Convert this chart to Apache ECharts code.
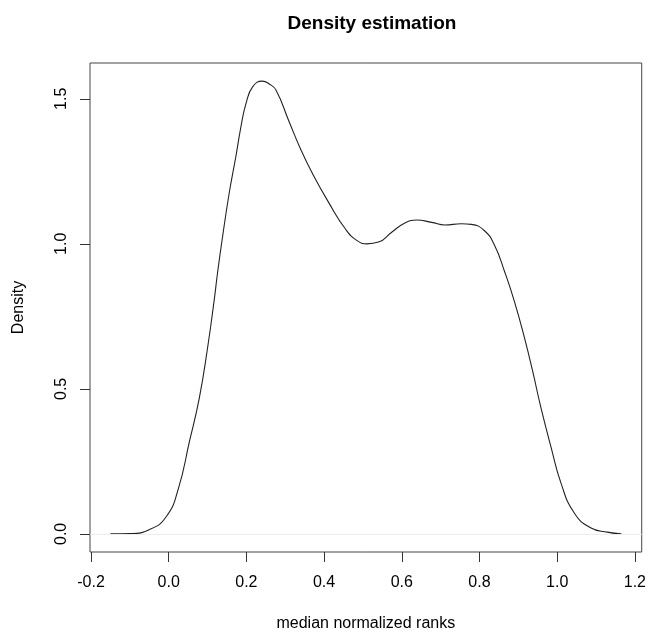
<!DOCTYPE html>
<html>
<head>
<meta charset="utf-8">
<script src="https://cdn.jsdelivr.net/npm/echarts@6/dist/echarts.min.js"></script>
<style>
html,body{margin:0;padding:0;background:#fff;}
#chart{width:649px;height:637px;}
</style>
</head>
<body>
<div id="chart"></div>
<script>
// Density curve
const xValues = [-0.150, -0.100, -0.049, -0.006, 0.024, 0.054, 0.079, 0.100, 0.117, 0.126, 0.139, 0.156, 0.173, 0.186, 0.199, 0.216, 0.241, 0.258, 0.276, 0.310, 0.340, 0.369, 0.412, 0.455, 0.485, 0.510, 0.540, 0.574, 0.608, 0.638, 0.677, 0.711, 0.753, 0.779, 0.813, 0.839, 0.865, 0.890, 0.916, 0.937, 0.958, 0.984, 1.010, 1.044, 1.086, 1.129, 1.165];
const densityValues = [0.000, 0.001, 0.015, 0.060, 0.152, 0.322, 0.470, 0.641, 0.805, 0.903, 1.028, 1.177, 1.302, 1.404, 1.484, 1.541, 1.561, 1.552, 1.530, 1.421, 1.325, 1.245, 1.142, 1.051, 1.011, 1.000, 1.006, 1.040, 1.072, 1.082, 1.074, 1.065, 1.069, 1.067, 1.045, 0.994, 0.903, 0.801, 0.675, 0.560, 0.436, 0.300, 0.174, 0.072, 0.021, 0.006, 0.000];
const xTicks = [-0.2, 0.0, 0.2, 0.4, 0.6, 0.8, 1.0, 1.2];
const yTicks = [0.0, 0.5, 1.0, 1.5];
const titleText = 'Density estimation';
const xLabel = 'median normalized ranks';
const yLabel = 'Density';

// R-style 4% axis padding around the data range
const xMin = Math.min(...xValues), xMax = Math.max(...xValues);
const yMin = 0, yMax = Math.max(...densityValues);
const xPad = (xMax - xMin) * 0.04, yPad = (yMax - yMin) * 0.04;

const font = '"Liberation Sans", Arial, Helvetica, sans-serif';
const chart = echarts.init(document.getElementById('chart'), null, {renderer: 'canvas'});
chart.setOption({
  animation: false,
  backgroundColor: '#ffffff',
  title: {
    text: titleText,
    left: 367,
    textAlign: 'center',
    top: 9,
    textStyle: {fontFamily: font, fontSize: 19, fontWeight: 'bold', color: '#000'}
  },
  grid: {
    left: 90, right: 5, top: 63, bottom: 80,
    show: true, borderColor: '#444', borderWidth: 1, backgroundColor: 'transparent'
  },
  xAxis: {
    type: 'value',
    min: xMin - xPad, max: xMax + xPad,
    name: xLabel, nameLocation: 'middle', nameGap: 64,
    nameTextStyle: {fontFamily: font, fontSize: 16, color: '#000'},
    axisLine: {show: false, onZero: false},
    splitLine: {show: false},
    axisTick: {show: true, inside: false, length: 10, customValues: xTicks, lineStyle: {color: '#333'}},
    axisLabel: {show: true, margin: 23, customValues: xTicks, fontFamily: font, fontSize: 16, color: '#000',
      formatter: v => v.toFixed(1)}
  },
  yAxis: {
    type: 'value',
    min: yMin - yPad, max: yMax + yPad,
    name: yLabel, nameLocation: 'middle', nameGap: 63, nameRotate: 90,
    nameTextStyle: {fontFamily: font, fontSize: 16, color: '#000'},
    axisLine: {show: false, onZero: false},
    splitLine: {show: false},
    axisTick: {show: true, inside: false, length: 10, customValues: yTicks, lineStyle: {color: '#333'}},
    axisLabel: {show: true, margin: 20, rotate: 90, customValues: yTicks, fontFamily: font, fontSize: 16, color: '#000',
      formatter: v => v.toFixed(1)}
  },
  series: [{
    type: 'line',
    data: xValues.map((x, i) => [x, densityValues[i]]),
    showSymbol: false,
    smooth: 0.5,
    lineStyle: {color: '#222', width: 1.1},
    markLine: {
      silent: true, symbol: 'none', label: {show: false},
      lineStyle: {color: '#ececec', width: 1, type: 'solid'},
      data: [{yAxis: 0}]
    }
  }]
});
</script>
</body>
</html>
